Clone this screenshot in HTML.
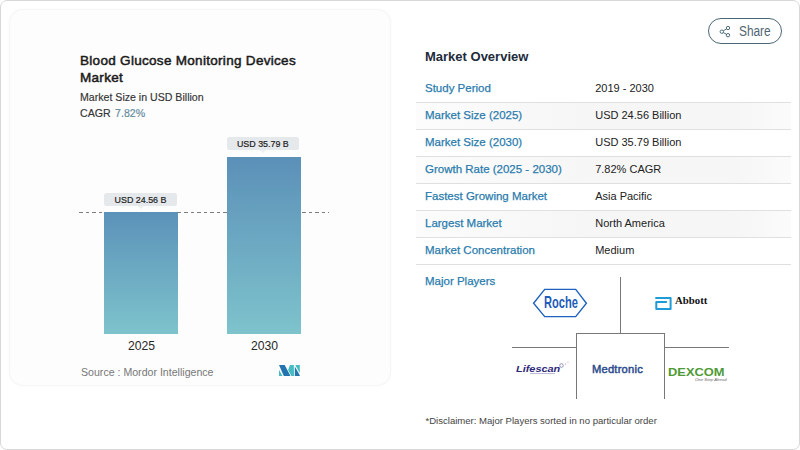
<!DOCTYPE html>
<html><head><meta charset="utf-8">
<style>
*{margin:0;padding:0;box-sizing:border-box}
html,body{width:800px;height:450px;background:#fff;overflow:hidden}
body{font-family:"Liberation Sans",sans-serif;position:relative}
.frame{position:absolute;left:0;top:0;width:800px;height:450px;border:1px solid #d8d8d8;border-radius:7px;background:#fff}
.card{position:absolute;left:9px;top:9px;width:382px;height:377px;border:1px solid #f6f6f6;border-radius:14px;background:#fdfdfd;box-shadow:0 0 2px rgba(0,0,0,0.04)}
.abs{position:absolute;white-space:nowrap}
.title{left:80px;top:52px;font-size:13.5px;color:#1a1a1a;line-height:17.3px;letter-spacing:0.3px;-webkit-text-stroke:0.5px #1a1a1a}
.sub{left:80px;font-size:10.6px;color:#333;-webkit-text-stroke:0.15px #333}
.bar{position:absolute;background:linear-gradient(#5b93b9,#7ec2cb)}
.lbl{position:absolute;height:13px;background:#e5e9eb;border-radius:2.5px;font-size:8.9px;color:#222;text-align:center;line-height:14.6px;-webkit-text-stroke:0.2px #222}
.lbl:after{content:"";position:absolute;left:50%;bottom:-3px;margin-left:-3px;border-left:3px solid transparent;border-right:3px solid transparent;border-top:3px solid #eef1f2}
.year{font-size:12.2px;color:#282828}
.k{left:425px;font-size:11.5px;color:#2a7cad;-webkit-text-stroke:0.25px #2a7cad}
.v{left:595.2px;font-size:11px;color:#222}
.sep{position:absolute;left:416px;width:375px;height:1px;background:#e0e0e0}
.ln{position:absolute;background:#787878}
.rowbg{position:absolute;left:416px;width:375px;height:26px;background:linear-gradient(90deg,#fcfcfc,#f6f6f6 45%,#f6f6f6 85%,#fbfbfb)}
</style></head><body>
<div class="frame"></div>
<div class="card"></div>

<div class="abs title">Blood Glucose Monitoring Devices<br>Market</div>
<div class="abs sub" style="top:90.7px">Market Size in USD Billion</div>
<div class="abs sub" style="top:107px">CAGR <span style="color:#6fa6c4;margin-left:1.5px">7.82%</span></div>

<!-- chart -->
<div class="abs" style="left:79px;top:212px;width:250px;height:1px;background:repeating-linear-gradient(90deg,#7c7c7c 0 3.6px,transparent 3.6px 6.56px)"></div>
<div class="bar" style="left:104px;top:212px;width:74px;height:122.3px;background:linear-gradient(#5b92b9,#7ec3cc)"></div>
<div class="bar" style="left:227px;top:157px;width:74px;height:177.3px;background:linear-gradient(#5b90b8,#7ec3cc)"></div>
<div class="lbl" style="left:104px;top:192.8px;width:73px">USD 24.56 B</div>
<div class="lbl" style="left:226.7px;top:137.3px;width:72.3px">USD 35.79 B</div>
<div class="abs year" style="left:128px;top:339.4px">2025</div>
<div class="abs year" style="left:251px;top:339.4px">2030</div>
<div class="abs" style="left:81px;top:365.8px;font-size:10.6px;color:#777">Source :&nbsp;Mordor Intelligence</div>
<svg class="abs" style="left:279px;top:364.8px" width="21" height="11" viewBox="0 0 21 11">
<polygon points="0,0 5.7,0 11.5,11 4.8,11" fill="#2474b0"/>
<polygon points="0,4.8 0,11 3.5,11" fill="#45bcc2"/>
<polygon points="11,0 14.8,0 15,11 12.4,11 9.1,4.9" fill="#45bcc2"/>
<polygon points="15.8,1.4 20.8,10.2 20.8,11 15.8,11" fill="#2474b0"/>
<polygon points="16.3,0 20.8,0 20.8,8.3" fill="#45bcc2"/>
</svg>

<!-- right panel -->
<div class="abs" style="left:707.8px;top:18px;width:74px;height:26px;border:1px solid #4a6874;border-radius:13px"></div>
<svg class="abs" style="left:719px;top:25px" width="13" height="13" viewBox="0 0 13 13">
<g fill="none" stroke="#4f6d7a" stroke-width="1">
<circle cx="9" cy="3" r="1.7"/><circle cx="2.8" cy="6.7" r="1.7"/><circle cx="9" cy="10.2" r="1.7"/>
<line x1="4.3" y1="5.8" x2="7.5" y2="3.9"/><line x1="4.3" y1="7.6" x2="7.5" y2="9.3"/>
</g></svg>
<div class="abs" style="left:738.5px;top:23.5px;font-size:13.8px;color:#4f6572;transform:scaleX(0.86);transform-origin:0 0">Share</div>

<div class="abs" style="left:425px;top:49px;font-size:13px;font-weight:bold;color:#1d2b3a">Market Overview</div>

<div class="rowbg" style="top:103px"></div><div class="rowbg" style="top:157px"></div><div class="rowbg" style="top:211px"></div>
<div class="abs k" style="top:82px">Study Period</div><div class="abs v" style="top:82px">2019 - 2030</div>
<div class="sep" style="top:102px"></div>
<div class="abs k" style="top:109px">Market Size (2025)</div><div class="abs v" style="top:109px">USD 24.56 Billion</div>
<div class="sep" style="top:129px"></div>
<div class="abs k" style="top:136px">Market Size (2030)</div><div class="abs v" style="top:136px">USD 35.79 Billion</div>
<div class="sep" style="top:156px"></div>
<div class="abs k" style="top:163px">Growth Rate (2025 - 2030)</div><div class="abs v" style="top:163px">7.82% CAGR</div>
<div class="sep" style="top:183px"></div>
<div class="abs k" style="top:190px">Fastest Growing Market</div><div class="abs v" style="top:190px">Asia Pacific</div>
<div class="sep" style="top:210px"></div>
<div class="abs k" style="top:217px">Largest Market</div><div class="abs v" style="top:217px">North America</div>
<div class="sep" style="top:237px"></div>
<div class="abs k" style="top:244px">Market Concentration</div><div class="abs v" style="top:244px">Medium</div>
<div class="sep" style="top:264px"></div>
<div class="abs k" style="top:275px">Major Players</div>

<!-- players grid -->
<div class="ln" style="left:620px;top:277px;width:1px;height:57px"></div>
<div class="ln" style="left:576px;top:333px;width:89px;height:1px"></div>
<div class="ln" style="left:576px;top:333px;width:1px;height:66px"></div>
<div class="ln" style="left:664px;top:333px;width:1px;height:66px"></div>
<div class="ln" style="left:512px;top:347px;width:64px;height:1px"></div>
<div class="ln" style="left:665px;top:347px;width:64px;height:1px"></div>

<!-- Roche -->
<svg class="abs" style="left:532px;top:288px" width="56" height="30" viewBox="0 0 56 30">
<polygon points="1.6,15.2 12.7,1.4 43.7,1.4 54.4,15.2 43.7,28.6 12.7,28.6" fill="none" stroke="#1e62c0" stroke-width="1.4"/>
</svg>
<div class="abs" style="left:544.2px;top:293.1px;font-size:16.2px;font-weight:bold;color:#1d5cba;transform:scaleX(0.685);transform-origin:0 0">Roche</div>

<!-- Abbott -->
<svg class="abs" style="left:655px;top:297px" width="17" height="13" viewBox="0 0 17 13">
<path d="M0.3,1 H15.6 V12 H1.3 V5 H11.9" fill="none" stroke="#1f9bd7" stroke-width="2" stroke-linejoin="round"/>
</svg>
<div class="abs" style="left:675.2px;top:294.5px;font-family:'Liberation Serif',serif;font-weight:bold;font-size:10px;color:#111;transform:scaleX(1.08);transform-origin:0 0">Abbott</div>

<!-- Medtronic -->
<div class="abs" style="left:592px;top:362.6px;font-size:11.2px;color:#2a4a8c;-webkit-text-stroke:0.45px #2a4a8c;letter-spacing:0.2px">Medtronic</div>

<!-- Lifescan -->
<div class="abs" style="left:515.5px;top:363.9px;font-size:8.6px;font-weight:bold;font-style:italic;color:#2e2a7a;transform:scaleX(1.27);transform-origin:0 0">Lifescan</div>
<svg class="abs" style="left:558px;top:361px" width="12" height="8" viewBox="0 0 12 8"><circle cx="3.5" cy="4.5" r="1.8" fill="none" stroke="#8a86b0" stroke-width="0.9"/><circle cx="7.5" cy="3" r="0.7" fill="#d9a0c8"/><circle cx="10" cy="1.2" r="0.6" fill="#e0a8c0"/></svg>
<div class="abs" style="left:530px;top:373.3px;width:25px;height:1px;background:#bdbbd9"></div>

<!-- Dexcom -->
<div class="abs" style="left:668px;top:365.8px;font-size:11.3px;font-weight:bold;color:#4f9a35;transform:scaleX(1.14);transform-origin:0 0">DEXCOM</div>
<div class="abs" style="left:695px;top:376.5px;font-size:4.3px;font-style:italic;color:#666">One Step Ahead</div>

<div class="abs" style="left:425.5px;top:414.6px;font-size:9.56px;color:#444">*Disclaimer: Major Players sorted in no particular order</div>
</body></html>
